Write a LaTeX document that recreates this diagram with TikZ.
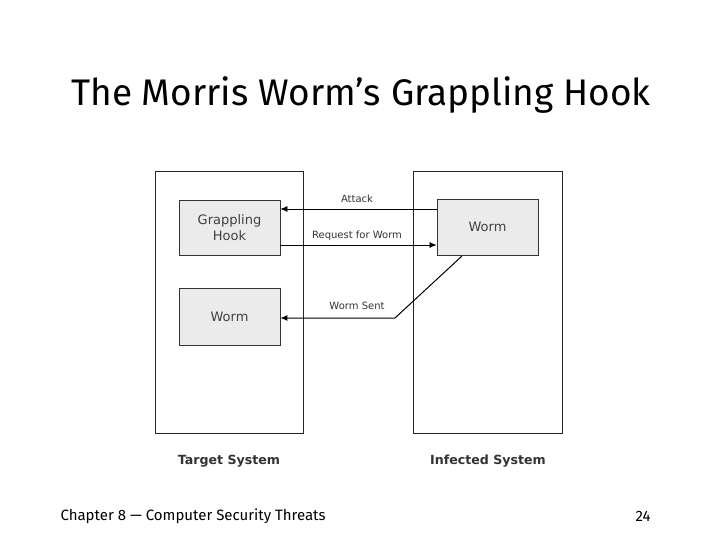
\documentclass[tikz,border=0pt]{standalone}
\usepackage{fontspec}
\setmainfont{DejaVu Sans}
\newfontfamily\titlefont{Fira Sans}
\usetikzlibrary{arrows.meta}
\begin{document}
\begin{tikzpicture}[x=1pt,y=-1pt,
  outer/.style={draw=black!85,line width=0.8pt},
  inner/.style={draw=black!80,fill=black!8,line width=0.8pt,align=center,font=\fontsize{13}{16}\selectfont\color{black!75}},
  lab/.style={font=\fontsize{10}{12}\selectfont\color{black!80}},
  arr/.style={line width=0.7pt,-{Latex[length=7pt,width=6pt]}},
  sys/.style={font=\bfseries\fontsize{12.6}{15}\selectfont\color{black!80}}]
\useasboundingbox (0,0) rectangle (720,540);
\node[font=\titlefont\fontsize{37}{44}\selectfont] (title) at (361,95) {The Morris Worm’s Grappling Hook};
\draw[outer] (155,171) rectangle (303,433);
\draw[outer] (413,171) rectangle (562,433);
\node[inner,minimum width=101pt,minimum height=55pt] (gh) at (229.5,227.5) {Grappling\\Hook};
\node[inner,minimum width=101pt,minimum height=57pt] (w1) at (229.5,316.5) {Worm};
\node[inner,minimum width=101pt,minimum height=56pt] (w2) at (487.5,227) {Worm};
\draw[arr] (w2.west|-0,209) -- (gh.east|-0,209);
\draw[arr] (gh.east|-0,245) -- (w2.west|-0,245);
\coordinate (bend) at (395,318);
\coordinate (start) at (462,256);
\draw[arr,line width=1pt] (start) -- (bend) -- (w1.east|-bend);
\node[lab] (l1) at (357,199) {Attack};
\node[lab] (l2) at (357,236) {Request for Worm};
\node[lab] (l3) at (357,306) {Worm Sent};
\node[sys] (ts) at (229,461) {Target System};
\node[sys] (is) at (488,461) {Infected System};
\node[font=\titlefont\fontsize{15}{18}\selectfont,anchor=west] (ft) at (57,516) {Chapter 8 — Computer Security Threats};
\node[font=\titlefont\fontsize{15}{18}\selectfont] (pg) at (643,516) {24};
\end{tikzpicture}
\end{document}
